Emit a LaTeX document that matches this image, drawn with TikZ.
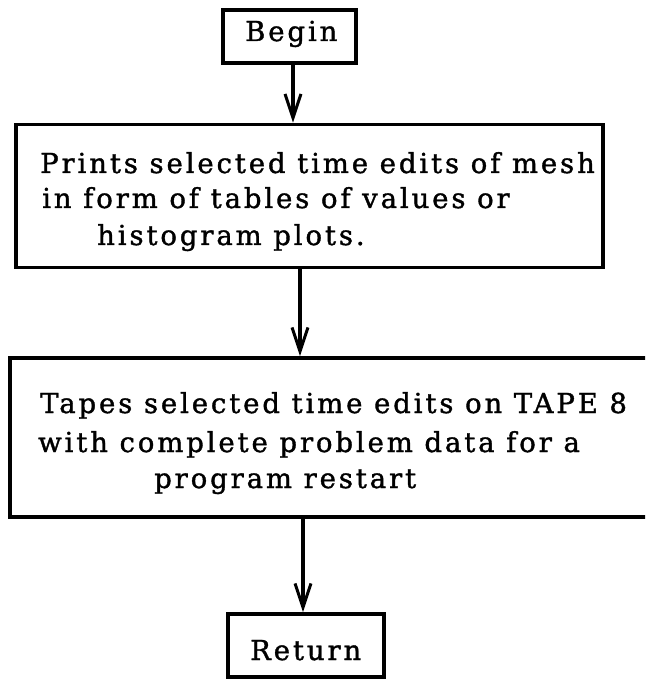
\documentclass[tikz,border=0pt]{standalone}
\usepackage{fontspec}
\setmainfont{DejaVu Serif}[LetterSpace=10.5,FakeBold=1.3]
\usetikzlibrary{arrows.meta}
\begin{document}
\begin{tikzpicture}[x=1pt,y=-1pt,
  box/.style={draw, line width=3.6pt, inner sep=0pt},
  txt/.style={inner sep=0pt, anchor=base west, font=\fontsize{27.5}{36}\selectfont},
  arr/.style={line width=3.2pt, -{Straight Barb[length=24pt,width=16pt,line width=3pt]}}]
\useasboundingbox (0,0) rectangle (645,684);
\clip (0,0) rectangle (645,684);
% boxes
\node[box, minimum width=133pt, minimum height=53pt] (b1) at (289.5,36.5) {};
\node[box, minimum width=587pt, minimum height=143pt] (b2) at (309.5,196) {};
\node[box, minimum width=655pt, minimum height=159pt] (b3) at (337.5,437.5) {};
\node[box, minimum width=156pt, minimum height=63pt] (b4) at (306,645.5) {};
% texts
\node[txt] (t1) at (245,41) {Begin};
\node[txt] (t2a) at (40,173) {Prints selected time edits of mesh};
\node[txt] (t2b) at (42,208) {in form of tables of values or};
\node[txt] (t2c) at (97,245) {histogram plots.};
\node[txt] (t3a) at (40,413) {Tapes selected time edits on TAPE 8};
\node[txt] (t3b) at (38,452) {with complete problem data for a};
\node[txt] (t3c) at (154,488) {program restart};
\node[txt] (t4) at (250,660) {Return};
% connectors
\coordinate (x1) at (293,0);
\coordinate (x2) at (300,0);
\coordinate (x3) at (303,0);
\draw[arr] (b1.south -| x1) -- (b2.north -| x1);
\draw[arr] (b2.south -| x2) -- (b3.north -| x2);
\draw[arr] (b3.south -| x3) -- (b4.north -| x3);
\end{tikzpicture}
\end{document}
